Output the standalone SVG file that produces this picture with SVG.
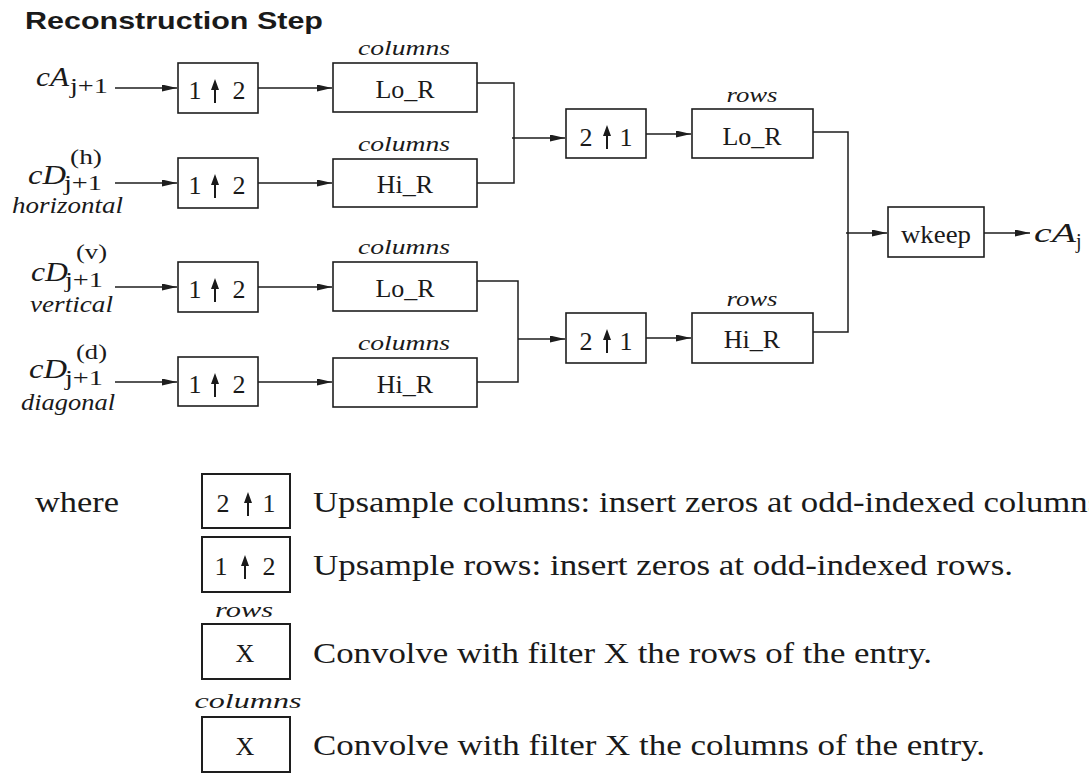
<svg xmlns="http://www.w3.org/2000/svg" width="1089" height="775" viewBox="0 0 1089 775">
  <style>
    .box { fill: #fff; stroke: #1e1e1e; stroke-width: 1.6; }
    .lbox { fill: #fff; stroke: #1e1e1e; stroke-width: 2; }
    .wire { fill: none; stroke: #1e1e1e; stroke-width: 1.5; }
    .arrowed { marker-end: url(#head); }
    .t { font-family: "Liberation Serif", "Times New Roman", serif; fill: #1a1a1a; }
    .lbl { font-size: 26px; text-anchor: middle; }
    .num { font-size: 26px; text-anchor: middle; }
    .it { font-style: italic; }
    .tag { font-size: 22px; font-style: italic; text-anchor: middle; }
    .sub { font-size: 20px; }
    .sup { font-size: 21px; }
    .leg { font-size: 30px; }
    .title { font-family: "Liberation Sans", Arial, sans-serif; font-weight: bold; font-size: 24px; fill: #1a1a1a; }
    .up { fill: #1a1a1a; stroke: none; }
  </style>
  <defs>
    <marker id="head" markerUnits="userSpaceOnUse" markerWidth="16" markerHeight="8" refX="15" refY="3.5" orient="auto">
      <path d="M0,0 L15,3.5 L0,7 z" fill="#1e1e1e"/>
    </marker>
    <!-- small upward arrow drawn between the two digits of an upsampler -->
    <path id="uparrow" class="up" d="M-1,0 L-1,-13 L-4,-13 L0,-24 L4,-13 L1,-13 L1,0 z"/>
  </defs>

  <text class="title" x="25" y="29" textLength="298" lengthAdjust="spacingAndGlyphs">Reconstruction Step</text>

  <!-- inputs -->
  <g id="in-cA">
    <text class="t it" x="36" y="86" font-size="28" textLength="33" lengthAdjust="spacingAndGlyphs">cA</text>
    <text class="t sub" x="70" y="93" textLength="38" lengthAdjust="spacingAndGlyphs">j+1</text>
  </g>
  <g id="in-cDh">
    <text class="t it" x="28" y="184" font-size="28" textLength="38" lengthAdjust="spacingAndGlyphs">cD</text>
    <text class="t sup" x="70" y="164" textLength="32" lengthAdjust="spacingAndGlyphs">(h)</text>
    <text class="t sub" x="64" y="190" textLength="38" lengthAdjust="spacingAndGlyphs">j+1</text>
    <text class="t it" x="12" y="213" font-size="23" textLength="111" lengthAdjust="spacingAndGlyphs">horizontal</text>
  </g>
  <g id="in-cDv">
    <text class="t it" x="31" y="281" font-size="28" textLength="37" lengthAdjust="spacingAndGlyphs">cD</text>
    <text class="t sup" x="76" y="259" textLength="31" lengthAdjust="spacingAndGlyphs">(v)</text>
    <text class="t sub" x="65" y="287" textLength="38" lengthAdjust="spacingAndGlyphs">j+1</text>
    <text class="t it" x="30" y="312" font-size="23" textLength="83" lengthAdjust="spacingAndGlyphs">vertical</text>
  </g>
  <g id="in-cDd">
    <text class="t it" x="29" y="378" font-size="28" textLength="38" lengthAdjust="spacingAndGlyphs">cD</text>
    <text class="t sup" x="76" y="359" textLength="31" lengthAdjust="spacingAndGlyphs">(d)</text>
    <text class="t sub" x="65" y="385" textLength="38" lengthAdjust="spacingAndGlyphs">j+1</text>
    <text class="t it" x="21" y="410" font-size="23" textLength="94" lengthAdjust="spacingAndGlyphs">diagonal</text>
  </g>

  <!-- row upsamplers 1↑2 -->
  <g id="up-r1">
    <rect class="box" x="178" y="63" width="80" height="50"/>
    <text class="t num" x="195" y="99">1</text><use href="#uparrow" x="215" y="103"/><text class="t num" x="239" y="99">2</text>
  </g>
  <g id="up-r2">
    <rect class="box" x="178" y="158" width="80" height="50"/>
    <text class="t num" x="195" y="194">1</text><use href="#uparrow" x="215" y="198"/><text class="t num" x="239" y="194">2</text>
  </g>
  <g id="up-r3">
    <rect class="box" x="178" y="262" width="80" height="50"/>
    <text class="t num" x="195" y="298">1</text><use href="#uparrow" x="215" y="302"/><text class="t num" x="239" y="298">2</text>
  </g>
  <g id="up-r4">
    <rect class="box" x="178" y="357" width="80" height="49"/>
    <text class="t num" x="195" y="393">1</text><use href="#uparrow" x="215" y="397"/><text class="t num" x="239" y="393">2</text>
  </g>

  <!-- column filters -->
  <g id="col-lo1">
    <text class="t tag" x="404" y="55" textLength="92" lengthAdjust="spacingAndGlyphs">columns</text>
    <rect class="box" x="333" y="63" width="144" height="49"/>
    <text class="t lbl" x="405" y="98">Lo_R</text>
  </g>
  <g id="col-hi1">
    <text class="t tag" x="404" y="151" textLength="92" lengthAdjust="spacingAndGlyphs">columns</text>
    <rect class="box" x="333" y="159" width="144" height="48"/>
    <text class="t lbl" x="405" y="193">Hi_R</text>
  </g>
  <g id="col-lo2">
    <text class="t tag" x="404" y="254" textLength="92" lengthAdjust="spacingAndGlyphs">columns</text>
    <rect class="box" x="333" y="262" width="144" height="49"/>
    <text class="t lbl" x="405" y="297">Lo_R</text>
  </g>
  <g id="col-hi2">
    <text class="t tag" x="404" y="350" textLength="92" lengthAdjust="spacingAndGlyphs">columns</text>
    <rect class="box" x="333" y="358" width="144" height="49"/>
    <text class="t lbl" x="405" y="393">Hi_R</text>
  </g>

  <!-- column upsamplers 2↑1 -->
  <g id="up-c1">
    <rect class="box" x="566" y="109" width="80" height="49"/>
    <text class="t num" x="586" y="146">2</text><use href="#uparrow" x="607" y="149"/><text class="t num" x="626" y="146">1</text>
  </g>
  <g id="up-c2">
    <rect class="box" x="566" y="313" width="80" height="50"/>
    <text class="t num" x="586" y="350">2</text><use href="#uparrow" x="607" y="353"/><text class="t num" x="626" y="350">1</text>
  </g>

  <!-- row filters -->
  <g id="row-lo">
    <text class="t tag" x="752" y="102" textLength="51" lengthAdjust="spacingAndGlyphs">rows</text>
    <rect class="box" x="692" y="109" width="121" height="49"/>
    <text class="t lbl" x="752" y="145">Lo_R</text>
  </g>
  <g id="row-hi">
    <text class="t tag" x="752" y="306" textLength="51" lengthAdjust="spacingAndGlyphs">rows</text>
    <rect class="box" x="692" y="313" width="121" height="50"/>
    <text class="t lbl" x="752" y="348">Hi_R</text>
  </g>

  <g id="wkeep">
    <rect class="box" x="888" y="207" width="96" height="50"/>
    <text class="t lbl" x="936" y="243" textLength="70" lengthAdjust="spacingAndGlyphs">wkeep</text>
  </g>

  <g id="out-cA">
    <text class="t it" x="1034" y="242" font-size="28" textLength="42" lengthAdjust="spacingAndGlyphs">cA</text>
    <text class="t sub" x="1076" y="248">j</text>
  </g>

  <!-- connectors -->
  <g id="connectors">
    <line class="wire arrowed" x1="115" y1="88" x2="177" y2="88"/>
    <line class="wire arrowed" x1="115" y1="183" x2="177" y2="183"/>
    <line class="wire arrowed" x1="115" y1="287" x2="177" y2="287"/>
    <line class="wire arrowed" x1="115" y1="382" x2="177" y2="382"/>

    <line class="wire arrowed" x1="258" y1="88" x2="332" y2="88"/>
    <line class="wire arrowed" x1="258" y1="183" x2="332" y2="183"/>
    <line class="wire arrowed" x1="258" y1="287" x2="332" y2="287"/>
    <line class="wire arrowed" x1="258" y1="382" x2="332" y2="382"/>

    <polyline class="wire" points="477,83 514,83 514,183 477,183"/>
    <line class="wire arrowed" x1="512" y1="138" x2="565" y2="138"/>
    <polyline class="wire" points="477,281 518,281 518,382 477,382"/>
    <line class="wire arrowed" x1="518" y1="339" x2="565" y2="339"/>

    <line class="wire arrowed" x1="646" y1="134" x2="691" y2="134"/>
    <line class="wire arrowed" x1="646" y1="338" x2="691" y2="338"/>

    <polyline class="wire" points="813,132 848,132 848,332 813,332"/>
    <line class="wire arrowed" x1="846" y1="233" x2="887" y2="233"/>
    <line class="wire arrowed" x1="984" y1="233" x2="1030" y2="233"/>
  </g>

  <!-- key -->
  <g id="legend">
    <text class="t" x="35" y="512" font-size="30" textLength="84" lengthAdjust="spacingAndGlyphs">where</text>

    <rect class="lbox" x="202" y="474" width="88" height="54"/>
    <text class="t num" x="223" y="512" font-size="24">2</text><use href="#uparrow" x="248" y="516"/><text class="t num" x="269" y="512" font-size="24">1</text>
    <text class="t leg" x="313" y="512" textLength="797" lengthAdjust="spacingAndGlyphs">Upsample columns: insert zeros at odd-indexed columns.</text>

    <rect class="lbox" x="202" y="537" width="88" height="55"/>
    <text class="t num" x="221" y="575" font-size="24">1</text><use href="#uparrow" x="245" y="579"/><text class="t num" x="269" y="575" font-size="24">2</text>
    <text class="t leg" x="313" y="575" textLength="700" lengthAdjust="spacingAndGlyphs">Upsample rows: insert zeros at odd-indexed rows.</text>

    <text class="t tag" x="244" y="617" textLength="58" lengthAdjust="spacingAndGlyphs">rows</text>
    <rect class="lbox" x="202" y="624" width="88" height="55"/>
    <text class="t lbl" x="245" y="662">X</text>
    <text class="t leg" x="313" y="663" textLength="619" lengthAdjust="spacingAndGlyphs">Convolve with filter X the rows of the entry.</text>

    <text class="t tag" x="248" y="708" textLength="107" lengthAdjust="spacingAndGlyphs">columns</text>
    <rect class="lbox" x="202" y="717" width="88" height="55"/>
    <text class="t lbl" x="245" y="755">X</text>
    <text class="t leg" x="313" y="755" textLength="672" lengthAdjust="spacingAndGlyphs">Convolve with filter X the columns of the entry.</text>
  </g>
</svg>
